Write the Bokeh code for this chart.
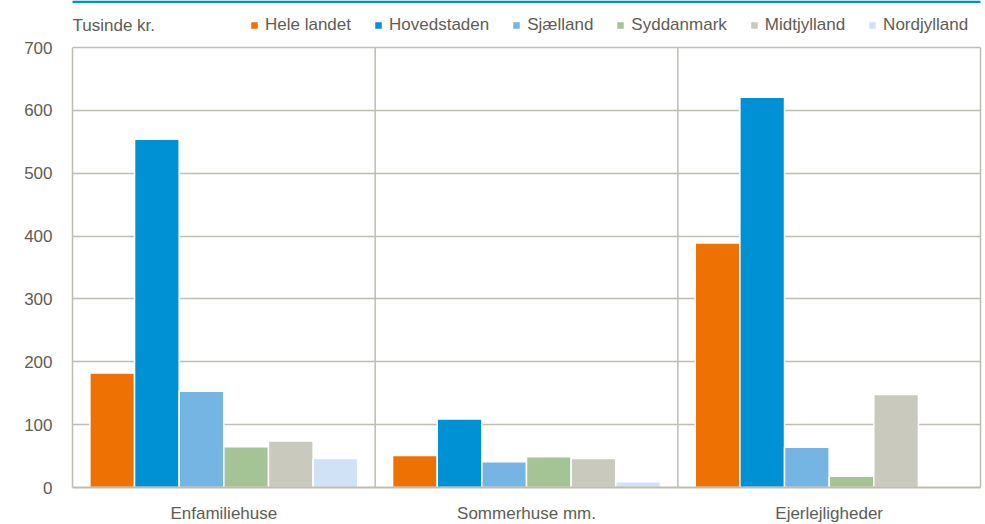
from bokeh.plotting import figure
from bokeh.models import (ColumnDataSource, FixedTicker, Legend, LegendItem, Label,
                          BoxAnnotation, LinearAxis)
from bokeh.transform import dodge
from bokeh.embed import file_html
from bokeh.resources import INLINE

# ---- data ----
categories = ["Enfamiliehuse", "Sommerhuse mm.", "Ejerlejligheder"]
regions = ["Hele landet", "Hovedstaden", "Sjælland", "Syddanmark", "Midtjylland", "Nordjylland"]
hele_landet = [182, 51, 389]
hovedstaden = [554, 109, 621]
sjaelland = [153, 41, 64]
syddanmark = [65, 49, 18]
midtjylland = [74, 46, 148]
nordjylland = [46, 9, float("nan")]
y_ticks = [0, 100, 200, 300, 400, 500, 600, 700]
unit_label = "Tusinde kr."

series = [hele_landet, hovedstaden, sjaelland, syddanmark, midtjylland, nordjylland]
colors = ["#EE7203", "#0091D4", "#75B5E3", "#A5C496", "#C9C9BD", "#D0E2F6"]

FONT = "Liberation Sans"
TXT = "#5d5d55"
GRID = "#BFBCB1"

# layout (pixels)
FW = 908
CHART_H = 440          # height of the 0..700 area
FH = 487               # frame reaches the top of the canvas
ML, MR, MB = 72, 5, 37
y_max = y_ticks[-1]
y_top = y_max * FH / CHART_H

centers = [i + 0.5 for i in range(len(categories))]
bounds_x = list(range(1, len(categories)))
data = {"xc": centers}
for name, vals in zip(regions, series):
    data[name] = vals
src = ColumnDataSource(data)

p = figure(frame_width=FW, frame_height=FH, x_range=(0, len(categories)), y_range=(0, y_top),
           output_backend="svg", toolbar_location=None, title=None,
           min_border_left=ML, min_border_right=MR, min_border_top=0, min_border_bottom=MB)
p.background_fill_color = "white"
p.border_fill_color = "white"
p.outline_line_color = None

# vertical separators between categories
p.segment(x0=bounds_x, y0=[0] * len(bounds_x), x1=bounds_x, y1=[y_max] * len(bounds_x),
          line_color=GRID, line_width=1.5)

bw = 0.1475
items = []
for i, (name, col) in enumerate(zip(regions, colors)):
    off = (i - (len(regions) - 1) / 2) * bw
    r = p.vbar(x=dodge("xc", off), top=name, width=bw, source=src,
               fill_color=col, line_color="white", line_width=1.5)
    items.append(LegendItem(label=name, renderers=[r]))

# axes
p.xaxis.ticker = FixedTicker(ticks=centers)
p.xaxis.major_label_overrides = {c: lab for c, lab in zip(centers, categories)}
p.xaxis.axis_line_color = GRID
p.xaxis.axis_line_width = 2
p.xaxis.major_tick_line_color = None
p.xaxis.minor_tick_line_color = None
p.xaxis.major_label_standoff = 10
p.xaxis.major_label_text_font = FONT
p.xaxis.major_label_text_font_size = "17px"
p.xaxis.major_label_text_color = TXT

p.yaxis.ticker = FixedTicker(ticks=y_ticks)
p.yaxis.bounds = (0, y_max)
p.yaxis.axis_line_color = GRID
p.yaxis.axis_line_width = 1.5
p.yaxis.major_tick_line_color = None
p.yaxis.minor_tick_line_color = None
p.yaxis.major_label_standoff = 14
p.yaxis.major_label_text_font = FONT
p.yaxis.major_label_text_font_size = "17px"
p.yaxis.major_label_text_color = TXT

# right border of the chart area: a bare axis line
ry = LinearAxis(ticker=FixedTicker(ticks=[]), bounds=(0, y_max),
                axis_line_color=GRID, axis_line_width=1.5,
                major_tick_line_color=None, minor_tick_line_color=None,
                major_label_standoff=0)
p.add_layout(ry, "right")

p.xgrid.grid_line_color = None
p.ygrid.ticker = FixedTicker(ticks=y_ticks[1:])
p.ygrid.grid_line_color = GRID
p.ygrid.grid_line_width = 1.5

legend = Legend(items=items, orientation="horizontal", location=(177, FH - 35),
                glyph_width=10, glyph_height=10, label_standoff=6, spacing=22,
                padding=0, margin=0, border_line_color=None, background_fill_alpha=0,
                label_text_font=FONT, label_text_font_size="17px", label_text_color=TXT)
p.add_layout(legend, "center")

p.add_layout(Label(x=0, y=FH - 25, x_units="screen", y_units="screen", text=unit_label,
                   text_font=FONT, text_font_size="17px", text_color=TXT,
                   text_baseline="middle", text_align="left"))

p.add_layout(BoxAnnotation(left=-ML, right=FW + MR, bottom=FH - 2.5, top=FH,
                           left_units="screen", right_units="screen",
                           bottom_units="screen", top_units="screen",
                           fill_color="#0090D0", fill_alpha=1, line_color=None))

open("out.html", "w").write(file_html(p, INLINE))
